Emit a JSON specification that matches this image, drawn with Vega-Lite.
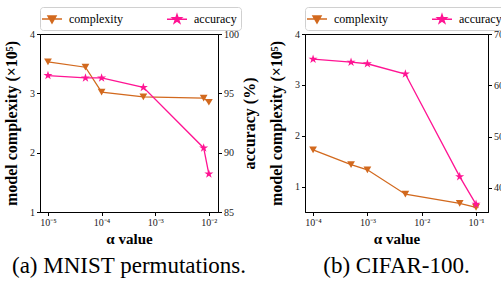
{
  "$schema": "https://vega.github.io/schema/vega-lite/v6.json",
  "padding": {"left": 3, "top": 6, "right": 0, "bottom": 0},
  "config": {
    "font": "Liberation Serif",
    "view": {"stroke": "black", "strokeWidth": 1},
    "axis": {
      "labelFont": "Liberation Serif", "labelFontSize": 10, "labelColor": "#222",
      "titleFont": "Liberation Serif", "titleFontWeight": "bold", "titleFontSize": 16, "titleColor": "black",
      "domainColor": "black", "tickColor": "black", "grid": false, "tickSize": 3.5, "labelPadding": 2
    },
    "legend": {
      "orient": "top", "direction": "horizontal", "strokeColor": "#d0d0d0", "padding": 4,
      "cornerRadius": 3, "fillColor": "white", "labelFont": "Liberation Serif", "labelFontSize": 12,
      "labelColor": "black", "symbolSize": 196, "columnPadding": 40, "labelOffset": 9, "offset": 4
    }
  },
  "datasets": {
    "mnist": [
      {"alpha": 1e-5, "series": "complexity", "value": 3.53},
      {"alpha": 5e-5, "series": "complexity", "value": 3.44},
      {"alpha": 1e-4, "series": "complexity", "value": 3.02},
      {"alpha": 6e-4, "series": "complexity", "value": 2.94},
      {"alpha": 8e-3, "series": "complexity", "value": 2.92},
      {"alpha": 1e-2, "series": "complexity", "value": 2.85},
      {"alpha": 1e-5, "series": "accuracy", "value": 96.5},
      {"alpha": 5e-5, "series": "accuracy", "value": 96.3},
      {"alpha": 1e-4, "series": "accuracy", "value": 96.3},
      {"alpha": 6e-4, "series": "accuracy", "value": 95.5},
      {"alpha": 8e-3, "series": "accuracy", "value": 90.4},
      {"alpha": 1e-2, "series": "accuracy", "value": 88.2}
    ],
    "cifar": [
      {"alpha": 1e-4, "series": "complexity", "value": 1.72},
      {"alpha": 5e-4, "series": "complexity", "value": 1.43},
      {"alpha": 1e-3, "series": "complexity", "value": 1.33},
      {"alpha": 5e-3, "series": "complexity", "value": 0.85},
      {"alpha": 5e-2, "series": "complexity", "value": 0.67},
      {"alpha": 1e-1, "series": "complexity", "value": 0.59},
      {"alpha": 1e-4, "series": "accuracy", "value": 65.1},
      {"alpha": 5e-4, "series": "accuracy", "value": 64.5},
      {"alpha": 1e-3, "series": "accuracy", "value": 64.2},
      {"alpha": 5e-3, "series": "accuracy", "value": 62.2},
      {"alpha": 5e-2, "series": "accuracy", "value": 42.2},
      {"alpha": 1e-1, "series": "accuracy", "value": 36.8}
    ]
  },
  "spacing": 10,
  "resolve": {"scale": {"color": "independent"}, "legend": {"color": "independent"}},
  "hconcat": [
    {
      "data": {"name": "mnist"},
      "width": 178, "height": 178,
      "title": {"text": "(a) MNIST permutations.", "orient": "bottom", "font": "Liberation Serif", "fontSize": 23, "fontWeight": "normal", "color": "black", "offset": 8},
      "encoding": {
        "x": {"field": "alpha", "type": "quantitative",
          "scale": {"type": "log", "domain": [7.1e-6, 1.48e-2], "nice": false},
          "axis": {"values": [1e-5, 1e-4, 1e-3, 1e-2], "title": "α value", "titleFontSize": 15, "titlePadding": 4,
            "labelExpr": "datum.value < 5e-5 ? '10⁻⁵' : datum.value < 5e-4 ? '10⁻⁴' : datum.value < 5e-3 ? '10⁻³' : datum.value < 5e-2 ? '10⁻²' : '10⁻¹'"}},
        "color": {"field": "series", "type": "nominal",
          "scale": {"domain": ["complexity", "accuracy"], "range": ["#D2691E", "#FF1493"]},
          "legend": {"title": null,
            "encode": {"symbols": {"update": {
              "shape": {"signal": "datum.value == 'complexity' ? 'M-1.43,0H1.43M-0.57,-0.43H0.57L0,0.57Z' : 'M-1.43,0H1.43M0,-0.643L0.144,-0.199L0.612,-0.199L0.234,0.076L0.379,0.52L0,0.246L-0.379,0.52L-0.234,0.076L-0.612,-0.199L-0.144,-0.199Z'"},
              "fill": {"signal": "datum.value == 'complexity' ? '#D2691E' : '#FF1493'"},
              "stroke": {"signal": "datum.value == 'complexity' ? '#D2691E' : '#FF1493'"},
              "strokeWidth": {"value": 1.5},
              "opacity": {"value": 1}
            }}}}}
      },
      "layer": [
        {
          "transform": [{"filter": "datum.series == 'complexity'"}],
          "mark": {"type": "line", "strokeWidth": 1.3, "point": {"shape": "triangle-down", "filled": true, "size": 60}},
          "encoding": {
            "y": {"field": "value", "type": "quantitative", "scale": {"domain": [1, 4], "nice": false, "zero": false},
              "axis": {"values": [1, 2, 3, 4], "title": "model complexity (×10⁵)", "titlePadding": 10}}
          }
        },
        {
          "transform": [{"filter": "datum.series == 'accuracy'"}],
          "mark": {"type": "line", "strokeWidth": 1.3, "point": {"shape": "M0,-1L0.225,-0.309L0.951,-0.309L0.363,0.118L0.588,0.809L0,0.382L-0.588,0.809L-0.363,0.118L-0.951,-0.309L-0.225,-0.309Z", "filled": true, "size": 90}},
          "encoding": {
            "y": {"field": "value", "type": "quantitative", "scale": {"domain": [85, 100], "nice": false, "zero": false},
              "axis": {"orient": "right", "values": [85, 90, 95, 100], "title": "accuracy (%)", "titleAngle": 270, "titlePadding": 19}}
          }
        }
      ],
      "resolve": {"scale": {"y": "independent"}}
    },
    {
      "data": {"name": "cifar"},
      "width": 183, "height": 178,
      "title": {"text": "(b) CIFAR-100.", "orient": "bottom", "font": "Liberation Serif", "fontSize": 23, "fontWeight": "normal", "color": "black", "offset": 8},
      "encoding": {
        "x": {"field": "alpha", "type": "quantitative",
          "scale": {"type": "log", "domain": [7.1e-5, 0.166], "nice": false},
          "axis": {"values": [1e-4, 1e-3, 1e-2, 1e-1], "title": "α value", "titleFontSize": 15, "titlePadding": 4,
            "labelExpr": "datum.value < 5e-5 ? '10⁻⁵' : datum.value < 5e-4 ? '10⁻⁴' : datum.value < 5e-3 ? '10⁻³' : datum.value < 5e-2 ? '10⁻²' : '10⁻¹'"}},
        "color": {"field": "series", "type": "nominal",
          "scale": {"domain": ["complexity", "accuracy"], "range": ["#D2691E", "#FF1493"]},
          "legend": {"title": null,
            "encode": {"symbols": {"update": {
              "shape": {"signal": "datum.value == 'complexity' ? 'M-1.43,0H1.43M-0.57,-0.43H0.57L0,0.57Z' : 'M-1.43,0H1.43M0,-0.643L0.144,-0.199L0.612,-0.199L0.234,0.076L0.379,0.52L0,0.246L-0.379,0.52L-0.234,0.076L-0.612,-0.199L-0.144,-0.199Z'"},
              "fill": {"signal": "datum.value == 'complexity' ? '#D2691E' : '#FF1493'"},
              "stroke": {"signal": "datum.value == 'complexity' ? '#D2691E' : '#FF1493'"},
              "strokeWidth": {"value": 1.5},
              "opacity": {"value": 1}
            }}}}}
      },
      "layer": [
        {
          "transform": [{"filter": "datum.series == 'complexity'"}],
          "mark": {"type": "line", "strokeWidth": 1.3, "point": {"shape": "triangle-down", "filled": true, "size": 60}},
          "encoding": {
            "y": {"field": "value", "type": "quantitative", "scale": {"domain": [0.5, 4], "nice": false, "zero": false},
              "axis": {"values": [1, 2, 3, 4], "title": "model complexity (×10⁵)", "titlePadding": 10}}
          }
        },
        {
          "transform": [{"filter": "datum.series == 'accuracy'"}],
          "mark": {"type": "line", "strokeWidth": 1.3, "point": {"shape": "M0,-1L0.225,-0.309L0.951,-0.309L0.363,0.118L0.588,0.809L0,0.382L-0.588,0.809L-0.363,0.118L-0.951,-0.309L-0.225,-0.309Z", "filled": true, "size": 90}},
          "encoding": {
            "y": {"field": "value", "type": "quantitative", "scale": {"domain": [35.3, 70], "nice": false, "zero": false},
              "axis": {"orient": "right", "values": [40, 50, 60, 70], "title": "accuracy (%)", "titleAngle": 270, "titlePadding": 19}}
          }
        }
      ],
      "resolve": {"scale": {"y": "independent"}}
    }
  ]
}
